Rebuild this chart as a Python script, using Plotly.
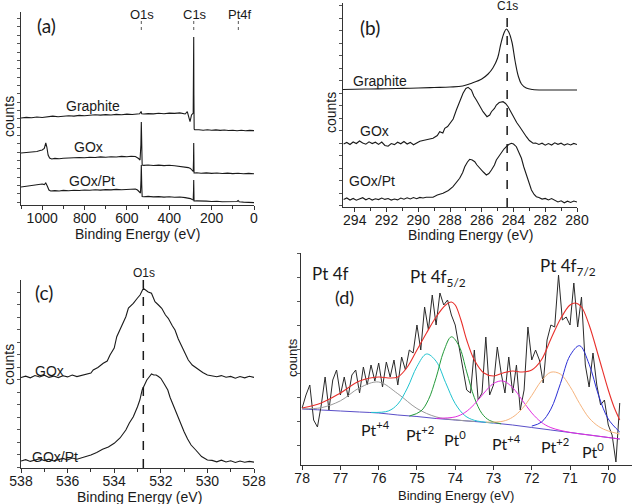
import plotly.graph_objects as go

# ---------------- DATA ----------------
# Panel (a) survey spectra (binding energy eV, counts a.u.)
a_graphite_E = [1100, 1075, 1050, 1025, 1000, 975, 950, 925, 900, 875, 850, 825, 800, 775, 750, 725, 700, 675, 650, 625, 600, 575, 550, 540, 533, 530, 520, 500, 475, 450, 425, 400, 375, 350, 325, 315, 302, 295, 287, 285.5, 284.6, 283.8, 282.5, 280, 260, 240, 220, 200, 180, 160, 140, 120, 100, 80, 60, 40, 20, 0]
a_graphite_I = [87.0, 87.6, 87.2, 88.0, 87.5, 88.3, 88.9, 88.2, 88.8, 89.3, 88.9, 89.6, 89.2, 89.8, 90.3, 89.9, 90.4, 90.0, 90.6, 90.3, 90.9, 90.5, 91.0, 91.3, 93.5, 91.2, 91.0, 91.4, 91.1, 91.7, 91.3, 91.9, 91.6, 92.1, 91.0, 93.3, 83.3, 90.0, 92.0, 150.0, 168.0, 110.0, 76.0, 75.3, 75.3, 74.8, 75.2, 74.7, 75.1, 74.6, 75.0, 74.5, 74.8, 74.3, 74.7, 74.2, 74.6, 74.4]

a_gox_E = [1100, 1075, 1050, 1025, 1010, 1000, 990, 983, 978, 972, 965, 955, 940, 920, 900, 875, 850, 825, 800, 775, 750, 725, 700, 675, 650, 625, 600, 580, 560, 550, 545, 538, 534, 532, 530, 528, 520, 500, 475, 450, 425, 400, 375, 350, 325, 310, 300, 292, 287, 285.5, 284.6, 283.8, 283, 270, 250, 225, 200, 175, 150, 125, 100, 75, 50, 25, 0]
a_gox_I = [52.0, 52.4, 52.9, 53.5, 54.5, 55.0, 56.5, 62.0, 58.0, 50.0, 47.0, 46.0, 46.6, 46.2, 46.8, 47.2, 46.9, 47.5, 47.2, 47.8, 47.5, 48.1, 47.7, 48.3, 48.0, 48.6, 48.3, 48.8, 48.5, 47.5, 46.5, 45.0, 60.0, 83.0, 60.0, 40.0, 39.6, 40.0, 39.5, 39.9, 39.4, 39.8, 39.2, 38.6, 38.1, 37.4, 36.5, 34.5, 33.5, 45.0, 62.0, 45.0, 32.0, 32.2, 31.7, 32.1, 31.6, 32.0, 31.5, 31.9, 31.4, 31.8, 31.3, 31.6, 31.2]

a_goxpt_E = [1100, 1075, 1050, 1025, 1010, 1000, 990, 983, 976, 968, 960, 940, 920, 900, 875, 850, 825, 800, 775, 750, 725, 700, 675, 650, 625, 600, 580, 560, 550, 542, 536, 533.5, 532, 530, 528, 520, 500, 475, 450, 425, 400, 375, 350, 325, 310, 300, 292, 287, 285.5, 284.6, 283.8, 283, 270, 250, 225, 200, 175, 150, 125, 100, 80, 75, 70, 50, 25, 0]
a_goxpt_I = [18.0, 18.6, 19.3, 19.8, 20.5, 21.0, 20.4, 22.0, 19.0, 15.0, 14.0, 14.4, 14.0, 14.6, 14.3, 14.8, 14.5, 15.0, 14.7, 15.2, 14.9, 15.4, 15.1, 15.6, 15.3, 15.8, 15.9, 16.0, 15.0, 13.5, 12.0, 25.0, 40.0, 20.0, 8.5, 8.3, 8.6, 8.1, 8.4, 7.9, 8.2, 7.7, 8.0, 7.4, 7.0, 6.4, 5.5, 5.0, 14.0, 25.0, 12.0, 4.0, 4.1, 3.7, 3.9, 3.5, 3.8, 3.3, 3.6, 3.2, 3.5, 4.5, 3.3, 2.9, 2.6, 2.4]

a_tick_vals = [1000, 800, 600, 400, 200, 0]
a_markers = ["O1s", "C1s", "Pt4f"]
a_marker_E = [532, 284.5, 74]

# Panel (b) C1s region
b_graphite_E = [294.74, 294, 293, 292, 291, 290, 289, 288, 287.2, 286.6, 286, 285.6, 285.3, 285.0, 284.8, 284.6, 284.45, 284.3, 284.1, 283.9, 283.7, 283.5, 283.2, 282.8, 282, 281, 280]
b_graphite_I = [117.5, 117.8, 118.0, 118.2, 118.6, 119.0, 119.5, 120.0, 121.0, 124.0, 128.0, 133.0, 139.0, 149.0, 163.0, 174.0, 178.0, 175.0, 165.0, 146.0, 131.0, 123.0, 119.0, 117.5, 117.0, 117.0, 117.0]

b_gox_E = [294.7, 294.5, 294.3, 294.1, 293.9, 293.7, 293.5, 293.3, 293.1, 292.9, 292.7, 292.5, 292.3, 292.1, 291.9, 291.7, 291.5, 291.3, 291.1, 290.9, 290.7, 290.5, 290.3, 290.1, 289.9, 289.7, 289.5,
           289.07, 288.8, 288.65, 288.45, 288.33, 288.15, 288.0, 287.8, 287.6, 287.4, 287.18, 287.0, 286.86, 286.65, 286.5, 286.34, 286.1, 285.92, 285.67, 285.5, 285.39, 285.2, 285.08, 284.9, 284.66, 284.5, 284.34, 284.2, 284.03, 283.8, 283.61, 283.4, 283.19, 283.0, 282.77,
           282.6, 282.4, 282.2, 282.0, 281.8, 281.6, 281.4, 281.2, 281.0, 280.8, 280.6, 280.4, 280.2, 280.0]
b_gox_I = [63.0, 64.5, 62.5, 65.0, 63.5, 66.0, 64.0, 62.8, 65.2, 63.4, 64.8, 62.6, 64.9, 61.5, 60.8, 63.5, 62.4, 64.8, 63.2, 65.5, 63.0, 64.6, 62.2, 64.1, 65.8, 66.5, 67.0,
           68.7, 71.5, 75.3, 74.0, 78.7, 80.5, 83.7, 88.0, 97.0, 105.0, 113.7, 118.5, 119.7, 117.0, 111.0, 107.0, 100.0, 95.3, 90.3, 92.0, 95.3, 98.5, 102.0, 104.5, 105.3, 103.5, 100.3, 96.0, 90.3, 84.5, 80.3, 75.0, 70.3, 66.5, 63.7,
           64.0, 62.5, 63.8, 61.8, 63.5, 62.0, 64.2, 62.7, 63.8, 61.9, 63.2, 62.1, 63.6, 62.5]

b_goxpt_E = [294.7, 294.5, 294.3, 294.1, 293.9, 293.7, 293.5, 293.3, 293.1, 292.9, 292.7, 292.5, 292.3, 292.1, 291.9, 291.7, 291.5, 291.3, 291.1, 290.9, 290.7, 290.5, 290.3, 290.1, 289.9, 289.7, 289.5,
             289.07, 288.8, 288.44, 288.1, 287.81, 287.6, 287.39, 287.2, 287.07, 286.9, 286.76, 286.6, 286.44, 286.3, 286.13, 285.9, 285.71, 285.55, 285.39, 285.2, 285.08, 284.9, 284.76, 284.6, 284.45, 284.3, 284.13, 284.0, 283.82, 283.65, 283.5, 283.35, 283.19, 283.0, 282.87, 282.7, 282.56,
             282.4, 282.2, 282.0, 281.8, 281.6, 281.4, 281.2, 281.0, 280.8, 280.6, 280.4, 280.2, 280.0]
b_goxpt_I = [7.5, 9.0, 7.0, 8.6, 6.8, 8.4, 9.3, 7.2, 8.7, 6.9, 8.2, 7.4, 9.0, 7.6, 8.5, 6.9, 8.0, 7.1, 8.9, 7.8, 9.2, 8.0, 9.4, 8.3, 9.6, 9.0, 9.8,
             9.7, 12.0, 13.7, 16.5, 20.3, 24.0, 28.7, 34.5, 40.3, 45.0, 47.7, 47.0, 45.3, 42.0, 38.7, 35.0, 32.0, 33.5, 37.0, 42.0, 47.0, 51.5, 55.3, 58.0, 60.3, 62.5, 63.7, 63.0, 60.3, 55.0, 48.7, 40.0, 32.0, 23.5, 17.0, 12.5, 10.3,
             9.5, 7.9, 8.6, 7.0, 8.4, 6.5, 5.0, 6.2, 4.2, 5.8, 4.6, 6.0, 5.0]
b_marker_E = 284.4

# Panel (c) O1s region
c_gox_E = [538.0, 537.8, 537.6, 537.4, 537.2, 537.0, 536.8, 536.6, 536.4, 536.2, 536.0, 535.8, 535.6, 535.4, 535.2, 535.0,
           534.9, 534.7, 534.47, 534.3, 534.18, 534.0, 533.89, 533.68, 533.5, 533.39, 533.18, 533.0, 532.89, 532.75, 532.54, 532.4, 532.25, 532.1, 531.96, 531.8, 531.68, 531.5, 531.39, 531.25, 531.1, 530.95, 530.82, 530.65, 530.46, 530.2,
           530.0, 529.8, 529.6, 529.4, 529.2, 529.0, 528.8, 528.6, 528.4, 528.2, 528.0]
c_gox_I = [90.5, 91.8, 90.2, 92.5, 91.0, 92.8, 90.6, 91.9, 90.4, 92.2, 91.1, 93.0, 91.4, 92.6, 93.8, 95.0,
           98.0, 100.5, 104.7, 107.0, 113.0, 120.0, 131.3, 142.0, 151.3, 160.0, 164.7, 170.0, 173.0, 179.7, 176.0, 174.7, 166.3, 163.0, 159.7, 153.0, 149.7, 142.0, 138.0, 129.0, 121.3, 113.0, 108.0, 103.0, 99.7, 95.5,
           93.0, 92.0, 91.2, 92.4, 90.8, 91.6, 89.8, 91.5, 90.2, 91.8, 90.6]

c_goxpt_E = [538.0, 537.8, 537.6, 537.4, 537.2, 537.0, 536.8, 536.6, 536.4, 536.2, 536.0, 535.8, 535.6,
             535.47, 535.25, 535.0, 534.75, 534.5, 534.25, 534.0, 533.75, 533.5, 533.35, 533.18, 533.0, 532.9, 532.8, 532.7, 532.6, 532.5, 532.4, 532.3, 532.2, 532.1, 532.0, 531.85, 531.7, 531.6, 531.5, 531.35, 531.2, 531.1, 531.0, 530.85, 530.7, 530.5, 530.25, 530.0,
             529.8, 529.6, 529.4, 529.2, 529.0, 528.8, 528.6, 528.4, 528.2, 528.0]
c_goxpt_I = [7.0, 8.3, 6.6, 8.0, 9.2, 7.4, 8.8, 7.1, 8.5, 9.6, 8.0, 10.0, 8.8,
             9.7, 11.0, 13.0, 15.5, 18.7, 21.0, 24.7, 30.0, 38.0, 45.0, 51.3, 61.3, 68.0, 78.0, 83.0, 88.0, 91.0, 94.0, 93.0, 93.0, 91.5, 89.7, 84.0, 78.0, 70.5, 64.7, 56.0, 48.0, 41.0, 36.3, 29.0, 23.0, 18.0, 11.5, 8.0,
             7.6, 6.2, 7.8, 6.0, 7.2, 5.5, 7.0, 5.8, 6.6, 5.9]
c_marker_E = 532.75

# Panel (d) Pt 4f region: raw data
d_E = [78.0, 77.9, 77.8, 77.7, 77.6, 77.5, 77.4, 77.3, 77.2, 77.1, 77.0, 76.9, 76.8, 76.7, 76.6, 76.5, 76.4, 76.3, 76.2, 76.1, 76.0, 75.9, 75.8, 75.7, 75.6, 75.5, 75.4, 75.3, 75.2, 75.1, 75.0, 74.9, 74.8, 74.7, 74.6, 74.5, 74.4, 74.3, 74.2, 74.1, 74.0, 73.9, 73.8, 73.7, 73.6, 73.5, 73.4, 73.3, 73.2, 73.1, 73.0, 72.9, 72.8, 72.7, 72.6, 72.5, 72.4, 72.3, 72.2, 72.1, 72.0, 71.9, 71.8, 71.7, 71.6, 71.5, 71.4, 71.3, 71.2, 71.1, 71.0, 70.9, 70.8, 70.7, 70.6, 70.5, 70.4, 70.3, 70.2, 70.1, 70.0, 69.9, 69.8, 69.7]
d_I = [57, 70, 80, 45, 38, 60, 88, 55, 85, 95, 70, 88, 68, 90, 95, 72, 98, 80, 100, 84, 102, 78, 103, 88, 105, 80, 108, 95, 115, 112, 140, 115, 158, 135, 170, 140, 172, 160, 165, 150, 140, 118, 95, 75, 72, 115, 65, 72, 128, 70, 80, 118, 92, 72, 108, 72, 100, 55, 75, 138, 105, 115, 105, 82, 125, 140, 138, 190, 145, 148, 140, 182, 138, 168, 100, 78, 112, 80, 60, 65, 40, 30, 3, 62]

# Panel (d) fitted curves
d_bg_E = [78.0, 77.5, 77.0, 76.5, 76.0, 75.5, 75.0, 74.5, 74.0, 73.5, 73.0, 72.5, 72.0, 71.5, 71.0, 70.5, 70.0, 69.7]
d_bg_I = [56, 55, 54, 53, 52, 50, 48.5, 46.5, 45, 43.5, 42, 40, 37.5, 35, 32.5, 30, 27.5, 26]

d_gray_E = [78.0, 77.5, 77.0, 76.5, 76.0, 75.5, 75.0, 74.5, 74.0, 73.5]
d_gray_I = [56.3, 57.3, 64.2, 77.2, 83.0, 71.3, 56.5, 48.1, 45.2, 43.5]
d_cyan_E = [76.2, 75.75, 75.5, 75.25, 75.0, 74.75, 74.5, 74.25, 74.0, 73.75, 73.5, 73.0]
d_cyan_I = [52.6, 54.0, 60.9, 77.0, 98.4, 111.0, 103.8, 82.3, 61.4, 49.5, 44.7, 42.0]
d_green_E = [75.2, 74.9, 74.7, 74.5, 74.3, 74.1, 73.9, 73.7, 73.5, 73.3, 73.1, 72.8]
d_green_I = [48.9, 53.8, 65.3, 87.2, 113.7, 128.2, 119.0, 93.1, 67.4, 51.4, 44.5, 41.2]
d_magenta_E = [74.5, 74.0, 73.75, 73.5, 73.25, 73.0, 72.75, 72.5, 72.25, 72.0, 71.75, 71.5, 71.0, 70.5, 70.0, 69.7]
d_magenta_I = [46.7, 48.1, 52.4, 60.7, 71.9, 81.5, 84.0, 77.4, 64.9, 52.1, 42.8, 37.4, 32.6, 30.0, 27.5, 26.0]
d_orange_E = [73.2, 72.75, 72.5, 72.25, 72.0, 71.75, 71.5, 71.25, 71.0, 70.75, 70.5, 70.25, 70.0, 69.7]
d_orange_I = [42.9, 43.8, 47.8, 56.3, 69.5, 84.0, 92.8, 90.9, 78.5, 61.5, 47.0, 38.5, 34.0, 31.0]
d_blue_E = [72.0, 71.75, 71.5, 71.25, 71.0, 70.75, 70.5, 70.25, 70.0, 69.7]
d_blue_I = [38.9, 42.8, 55.9, 81.5, 109.4, 119.3, 100.8, 69.2, 46.0, 33.0]
d_red_E = [78.0, 77.5, 77.0, 76.5, 76.0, 75.75, 75.5, 75.25, 75.0, 74.75, 74.5, 74.25, 74.1, 74.0, 73.85, 73.7, 73.5, 73.25, 73.0, 72.75, 72.5, 72.25, 72.0, 71.75, 71.5, 71.25, 71.0, 70.85, 70.7, 70.5, 70.25, 70.0, 69.85, 69.7]
d_red_I = [57, 62, 72, 84, 88, 87, 88, 98, 115, 132, 148, 160, 163, 160, 145, 125, 105, 92, 89, 92, 94, 93, 95, 105, 126, 146, 160, 162, 158, 140, 108, 75, 58, 45]

d_tick_vals = [78, 77, 76, 75, 74, 73, 72, 71, 70]

# ---------------- FIGURE ----------------
W, H = 632, 504
FONT = "Liberation Sans, Arial, sans-serif"
LAB = "Lato, Open Sans, sans-serif"
INK = "#1a1a1a"


def px(x, y):
    return x / W, 1 - y / H


fig = go.Figure()


def line(xs, ys, xa, ya, color=INK, width=1.1, shape="linear"):
    fig.add_trace(go.Scatter(x=xs, y=ys, xaxis=xa, yaxis=ya, mode="lines",
                             line=dict(color=color, width=width, shape=shape),
                             hoverinfo="skip", showlegend=False))


# (a)
line(a_graphite_E, a_graphite_I, "x", "y")
line(a_gox_E, a_gox_I, "x", "y")
line(a_goxpt_E, a_goxpt_I, "x", "y")
# (b)
line(b_graphite_E, b_graphite_I, "x2", "y2", shape="spline")
line(b_gox_E, b_gox_I, "x2", "y2")
line(b_goxpt_E, b_goxpt_I, "x2", "y2")
# (c)
line(c_gox_E, c_gox_I, "x3", "y3")
line(c_goxpt_E, c_goxpt_I, "x3", "y3")
# (d)
line(d_bg_E, d_bg_I, "x4", "y4", color="#5a4fc8", width=1.0, shape="spline")
line(d_E, d_I, "x4", "y4", color="#2a2a2a", width=1.0)
line(d_gray_E, d_gray_I, "x4", "y4", color="#9a9a9a", width=1.0, shape="spline")
line(d_cyan_E, d_cyan_I, "x4", "y4", color="#1fc3cf", width=1.0, shape="spline")
line(d_green_E, d_green_I, "x4", "y4", color="#239a3a", width=1.0, shape="spline")
line(d_magenta_E, d_magenta_I, "x4", "y4", color="#e22ee0", width=1.0, shape="spline")
line(d_orange_E, d_orange_I, "x4", "y4", color="#f6b47e", width=1.0, shape="spline")
line(d_blue_E, d_blue_I, "x4", "y4", color="#2b2fd6", width=1.0, shape="spline")
line(d_red_E, d_red_I, "x4", "y4", color="#e8302c", width=1.1, shape="spline")


def xaxis(dom, rng, tickvals, minor_dtick, anchor, size=14):
    d = dict(domain=dom, range=rng, anchor=anchor, showline=True, linecolor="#333", linewidth=1,
             ticks="outside", ticklen=4, tickwidth=1, tickcolor="#333", tickvals=tickvals,
             showgrid=False, zeroline=False, automargin=False, ticklabelstandoff=-4,
             tickfont=dict(family=FONT, size=size, color=INK))
    if minor_dtick:
        d["minor"] = dict(dtick=minor_dtick, ticklen=3, tickcolor="#333", ticks="outside", showgrid=False)
    return d


def yaxis(dom, rng, tick0, dtick, anchor):
    return dict(domain=dom, range=rng, anchor=anchor, showline=True, linecolor="#333", linewidth=1,
                ticks="outside", ticklen=3, tickwidth=1, tickcolor="#555", tick0=tick0, dtick=dtick,
                showticklabels=False, showgrid=False, zeroline=False, automargin=False)


fig.update_layout(
    width=W, height=H, margin=dict(l=0, r=0, t=0, b=0, pad=0, autoexpand=False),
    paper_bgcolor="white", plot_bgcolor="white",
    xaxis=xaxis([21 / W, 254 / W], [1100, 0], a_tick_vals, 100, "y"),
    yaxis=yaxis([1 - 205 / H, 1 - 12 / H], [0, 193], 2.7, 8.35, "x"),
    xaxis2=xaxis([343 / W, 577 / W], [294.74, 280], [294, 292, 290, 288, 286, 284, 282, 280], 1, "y2"),
    yaxis2=yaxis([1 - 207 / H, 1 - 3 / H], [0, 204], 1.5, 12.5, "x2"),
    xaxis3=xaxis([21 / W, 254 / W], [538, 528], [538, 536, 534, 532, 530, 528], 1, "y3"),
    yaxis3=yaxis([1 - 468 / H, 1 - 280 / H], [0, 188], 1, 12.5, "x3"),
    xaxis4=xaxis([301 / W, 632 / W], [78.03, 69.38], d_tick_vals, None, "y4", size=14),
    yaxis4=yaxis([1 - 465 / H, 1 - 253 / H], [0, 212], 20, 24, "x4"),
)

shapes = []
# dotted markers in (a)
for e in a_marker_E:
    shapes.append(dict(type="line", xref="x", yref="y", x0=e, x1=e, y0=175, y1=184,
                       line=dict(color="#555", width=1, dash="dot")))
# dashed lines in (b) and (c)
shapes.append(dict(type="line", xref="x2", yref="y2", x0=b_marker_E, x1=b_marker_E, y0=0, y1=197,
                   line=dict(color=INK, width=1.5, dash="dash")))
shapes.append(dict(type="line", xref="x3", yref="y3", x0=c_marker_E, x1=c_marker_E, y0=0, y1=188,
                   line=dict(color=INK, width=1.5, dash="dash")))
fig.update_layout(shapes=shapes)

anns = []


def ann(text, X, Y, size=14, family=FONT, angle=0, color=INK):
    x, y = px(X, Y)
    anns.append(dict(text=text, x=x, y=y, xref="paper", yref="paper", showarrow=False,
                     xanchor="center", yanchor="middle", textangle=angle,
                     font=dict(family=family, size=size, color=color)))


# axis titles
ann("Binding Energy (eV)", 137, 234, 14)
ann("Binding Energy (eV)", 470, 235, 14)
ann("Binding Energy (eV)", 139, 497, 14)
ann("Binding Energy (eV)", 456, 495, 13)
ann("counts", 9, 117, 14, angle=-90)
ann("counts", 331, 113, 14, angle=-90)
ann("counts", 9, 365, 14, angle=-90)
ann("counts", 292, 358, 13, angle=-90)
# panel letters
ann("(a)", 46, 25, 19, LAB)
ann("(b)", 370, 27, 19, LAB)
ann("(c)", 44, 292, 19, LAB)
ann("(d)", 344, 297, 18, LAB)
# (a) labels
ann("Graphite", 93, 106, 14)
ann("GOx", 88, 147, 14)
ann("GOx/Pt", 92, 181, 14)
for name, X in zip(a_markers, [142, 195, 240]):
    ann(name, X, 14, 13)
# (b) labels
ann("Graphite", 380, 81, 14)
ann("GOx", 374, 131, 14)
ann("GOx/Pt", 372, 181, 14)
ann("C1s", 508, 6, 12)
# (c) labels
ann("GOx", 49, 371, 14)
ann("GOx/Pt", 55, 457, 14)
ann("O1s", 144, 273, 12)
# (d) labels
ann("Pt 4f", 330, 273, 17, LAB)
ann("Pt 4f<sub>5/2</sub>", 438, 278, 17, LAB)
ann("Pt 4f<sub>7/2</sub>", 568, 267, 17, LAB)
ann("Pt<sup>+4</sup>", 375, 428, 16, LAB)
ann("Pt<sup>+2</sup>", 420, 433, 16, LAB)
ann("Pt<sup>0</sup>", 455, 438, 16, LAB)
ann("Pt<sup>+4</sup>", 507, 442, 16, LAB)
ann("Pt<sup>+2</sup>", 555, 445, 16, LAB)
ann("Pt<sup>0</sup>", 593, 450, 16, LAB)
fig.update_layout(annotations=anns)

fig.write_html("out.html", config={"displayModeBar": False},
               post_script="document.body.style.margin='0';document.body.style.padding='0';")
